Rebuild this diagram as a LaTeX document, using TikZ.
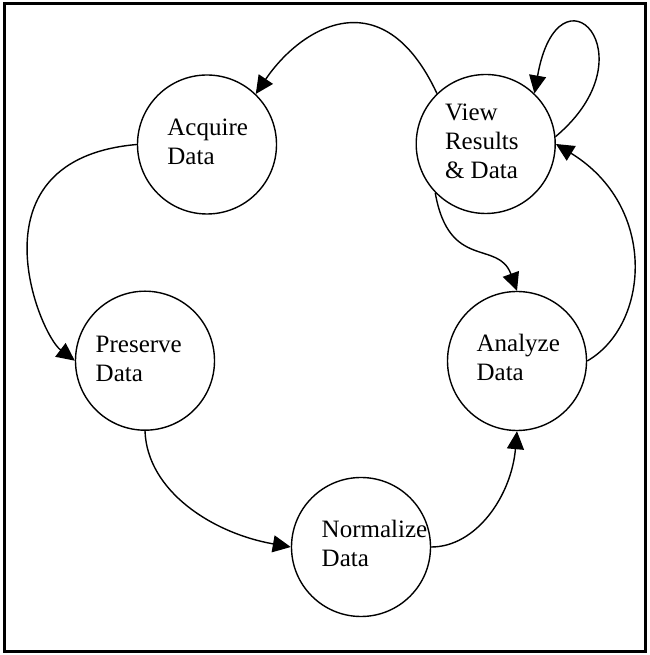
\documentclass[tikz,border=0pt]{standalone}
\usepackage{fontspec}
\setmainfont{Liberation Serif}
\usetikzlibrary{arrows.meta}

\begin{document}
\begin{tikzpicture}[x=1pt, y=1pt, line width=1.4pt, >={Triangle[length=18pt, width=17pt]},
  state/.style={circle, draw, minimum size=139pt, inner sep=0pt},
  txt/.style={anchor=north west, inner sep=0pt, align=left, font=\fontsize{25}{29}\selectfont}]
\useasboundingbox (0,0) rectangle (649,655);
\draw[line width=3pt] (4.5,3.5) rectangle (645.5,651.5);

\node[state] (AD) at (207,510.5) {};
\node[state] (VR) at (485.7,511) {};
\node[state] (PD) at (145,294.3) {};
\node[state] (AN) at (517,294) {};
\node[state] (ND) at (361,108) {};

\node[txt] (AD-t) at (166.7,536.4) {Acquire\\Data};
\node[txt] (VR-t) at (444.3,552.1) {View\\Results\\\& Data};
\node[txt] (PD-t) at (95,319.8) {Preserve\\Data};
\node[txt] (AN-t) at (475.9,321.2) {Analyze\\Data};
\node[txt] (ND-t) at (321,135.4) {Normalize\\Data};

\draw[->] (VR.134) .. controls +(115:128) and +(56:81) .. (AD.46);
\draw[->] (AD.180) .. controls +(185:170) and +(143:45) .. (PD.180);
\draw[->] (PD.270) .. controls +(272:60) and +(170:80) .. (ND.180);
\draw[->] (ND.0) .. controls +(0:45) and +(265:65) .. (AN.270);
\draw[->] (VR.224) .. controls +(280:80) and +(110:55) .. (AN.90);
\draw[->] (AN.0) .. controls +(30:72) and +(-31.5:120) .. (VR.0);
\draw[->] (VR.6) .. controls +(40:128) and +(80:138) .. (VR.46);
\end{tikzpicture}
\end{document}
